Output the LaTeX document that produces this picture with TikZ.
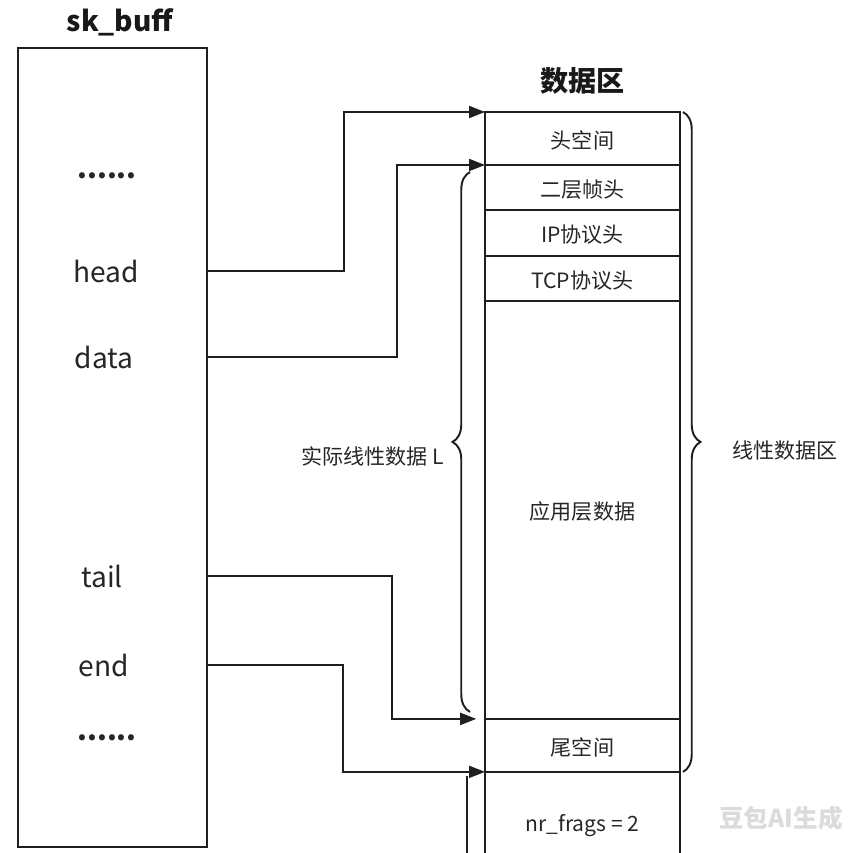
\documentclass[tikz,border=0pt]{standalone}
\usepackage{fontspec}
\setmainfont{Noto Sans CJK SC}
\usetikzlibrary{arrows.meta, positioning, decorations.pathreplacing, calc}

\begin{document}
\begin{tikzpicture}[
  x=0.02cm, y=-0.02cm,
  font=\fontsize{12}{14}\selectfont,
  line width=1.1pt, draw=black!88, text=black!85,
  ziduan/.style={font=\fontsize{16}{18}\selectfont},
  biaoti/.style={font=\fontsize{16}{18}\selectfont\bfseries, text=black!90},
  kuai/.style={
    draw, outer sep=0pt, inner sep=0pt,
    minimum width=3.9cm, align=center, anchor=north,
    text height=1.26em, text depth=0.12em
  },
  jiantou/.style={
    -{Triangle[length=3.2mm, width=2.4mm]},
    line width=1.1pt
  },
  kuohao/.style={
    decorate, decoration={brace, amplitude=0.35cm},
    line width=1.1pt
  },
  shuiyin/.style={font=\fontsize{14}{16}\selectfont\bfseries, text=black!14}
]
  \useasboundingbox (0,0) rectangle (865,852);
  \clip (0,0) rectangle (865,852);

  % sk_buff
  \node[draw, outer sep=0pt, minimum width=3.78cm, minimum height=15.98cm, anchor=north] (skb) at (112.5,48) {};
  \node[biaoti] (skbt) at (120,22) {sk\_buff};

  \node[ziduan] (dian1) at (107,176) {\textbf{......}};
  \node[ziduan] (head) at (106,271) {head};
  \node[ziduan] (data) at (104,357) {data};
  \node[ziduan] (tail) at (102,576) {tail};
  \node[ziduan] (end) at (104,665) {end};
  \node[ziduan] (dian2) at (107,738) {\textbf{......}};

  % 数据区
  \node[kuai, minimum height=1.06cm] (tou) at (582.5,112) {头空间};
  \node[kuai, minimum height=0.9cm, below=0pt of tou] (erceng) {二层帧头};
  \node[kuai, minimum height=0.92cm, below=0pt of erceng] (ip) {IP协议头};
  \node[kuai, minimum height=0.9cm, below=0pt of ip] (tcp) {TCP协议头};
  \node[kuai, minimum height=8.36cm, below=0pt of tcp] (yingyong) {应用层数据};
  \node[kuai, minimum height=1.06cm, below=0pt of yingyong] (wei) {尾空间};
  \node[kuai, minimum height=2cm, below=0pt of wei] (frags) {nr\_frags = 2};
  \node[biaoti, above=0.22cm of tou] (sjq) {数据区};

  % 指针
  \draw[jiantou] (head -| skb.east) -- ++(137,0) |- (tou.north west);
  \draw[jiantou] (data -| skb.east) -- ++(190,0) |- (erceng.north west);
  \draw[jiantou, shorten >=5pt] (tail -| skb.east) -- ++(185,0) |- (yingyong.south west);
  \draw[jiantou] (end -| skb.east) -- ++(136,0) |- (frags.north west);

  \coordinate (shang) at ($(frags.north west)+(-18,4)$);
  \draw (shang) -- (shang |- frags.south);

  % 括号
  \draw[kuohao] ($(yingyong.south west)+(-15,-7)$) -- ($(erceng.north west)+(-15,7)$)
    node[midway, left=0.38cm, yshift=-8pt] (shiji) {实际线性数据 L};
  \draw[kuohao] ($(tou.north east)+(3,0)$) -- ($(wei.south east)+(3,0)$)
    node[midway, right=0.85cm, yshift=-5pt] (xianxing) {线性数据区};

  \node[shuiyin] (sy) at (781,818) {豆包AI生成};
\end{tikzpicture}
\end{document}
